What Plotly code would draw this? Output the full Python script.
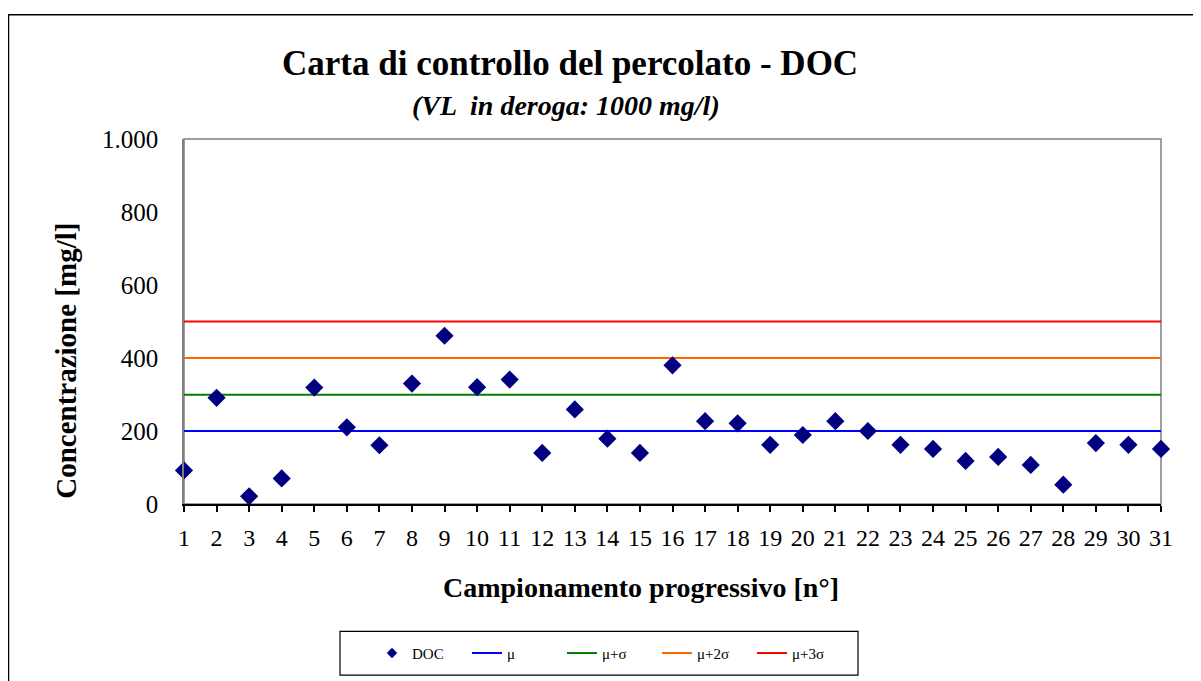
import plotly.graph_objects as go

samples = list(range(1, 32))
doc = [92, 291, 21, 70, 319, 210, 161, 330, 461, 320, 341, 140, 259, 179, 140,
       380, 227, 221, 162, 189, 227, 200, 162, 151, 118, 129, 107, 53, 167, 162, 151]
mu = 200
mu_s = 299
mu_2s = 400
mu_3s = 500

line_names = ["μ", "μ+σ", "μ+2σ", "μ+3σ"]
line_values = [mu, mu_s, mu_2s, mu_3s]
line_colors = ["#0000FF", "#008000", "#FF6600", "#FF0000"]

FONT = "Liberation Serif, Times New Roman, serif"

# page offset (default body margin) and plot-area geometry in screen pixels
OFF = 8
FW, FH = 1201 - OFF, 681 - OFF
L, R, T, B = 184, 1161, 139, 506
W, H = R - L, B - T


def px(x):
    return (x - L) / W


def py(y):
    return (B - y) / H


fig = go.Figure()
for i, (n, v, c) in enumerate(zip(line_names, line_values, line_colors)):
    fig.add_trace(go.Scatter(x=samples, y=[v] * len(samples), mode="lines", name=n,
                             line=dict(color=c, width=2), legendrank=2 + i))
fig.add_trace(go.Scatter(x=samples, y=doc, mode="markers", name="DOC",
                         marker=dict(symbol="diamond", size=14, color="#000080"),
                         cliponaxis=False, showlegend=False))
# legend entry with the small marker used in the reference legend
fig.add_trace(go.Scatter(x=[None], y=[None], mode="markers", name="DOC",
                         marker=dict(symbol="diamond", size=8, color="#000080"),
                         legendrank=1))

fig.update_layout(
    width=FW, height=FH,
    margin=dict(l=L - OFF, r=FW - (R - OFF), t=T - OFF, b=FH - (B - OFF), pad=0),
    paper_bgcolor="white", plot_bgcolor="white",
    separators=",.",
    font=dict(family=FONT, color="black"),
    showlegend=True,
    legend=dict(orientation="h", x=px(372), xanchor="left", y=py(656), yanchor="middle",
                font=dict(size=15, family=FONT), entrywidth=50, bgcolor="rgba(0,0,0,0)",
                borderwidth=0),
    xaxis=dict(range=[1, 31], tickmode="array", tickvals=samples,
               ticktext=[str(s) for s in samples], ticks="outside", ticklen=6,
               tickcolor="black", tickwidth=1.5, showline=True, linecolor="black",
               linewidth=1.5, showgrid=False, zeroline=False, ticklabelstandoff=5,
               tickfont=dict(size=24, family=FONT)),
    yaxis=dict(range=[0, 1000], tickvals=[0, 200, 400, 600, 800, 1000], tickformat=",d",
               showline=True, linecolor="#808080", linewidth=1.5, showgrid=False,
               zeroline=False, ticks="", ticklabelstandoff=19,
               tickfont=dict(size=25, family=FONT)),
)

# plot-area border (grey), outer frame, legend box
fig.add_shape(type="rect", xref="paper", yref="paper", x0=0, x1=1, y0=0, y1=1,
              line=dict(color="#808080", width=1.5), layer="below")
fig.add_shape(type="rect", xref="paper", yref="paper", x0=px(8.5), x1=px(1215),
              y0=py(695), y1=py(14), line=dict(color="black", width=1.5))
fig.add_shape(type="rect", xref="paper", yref="paper", x0=px(340), x1=px(858),
              y0=py(678), y1=py(634), line=dict(color="black", width=1.2))

fig.add_annotation(text="<b>Carta di controllo del percolato - DOC</b>", xref="paper",
                   yref="paper", x=px(570), y=py(63), xanchor="center", yanchor="middle",
                   showarrow=False, font=dict(size=35, family=FONT))
fig.add_annotation(text="<b><i>(VL  in deroga: 1000 mg/l)</i></b>", xref="paper",
                   yref="paper", x=px(566), y=py(105), xanchor="center", yanchor="middle",
                   showarrow=False, font=dict(size=28, family=FONT))
fig.add_annotation(text="<b>Concentrazione [mg/l]</b>", xref="paper", yref="paper",
                   x=px(66), y=py(362), xanchor="center", yanchor="middle",
                   showarrow=False, textangle=-90, font=dict(size=29, family=FONT))
fig.add_annotation(text="<b>Campionamento progressivo [n°]</b>", xref="paper",
                   yref="paper", x=px(641), y=py(590), xanchor="center", yanchor="middle",
                   showarrow=False, font=dict(size=28, family=FONT))

fig.write_html("out.html")
